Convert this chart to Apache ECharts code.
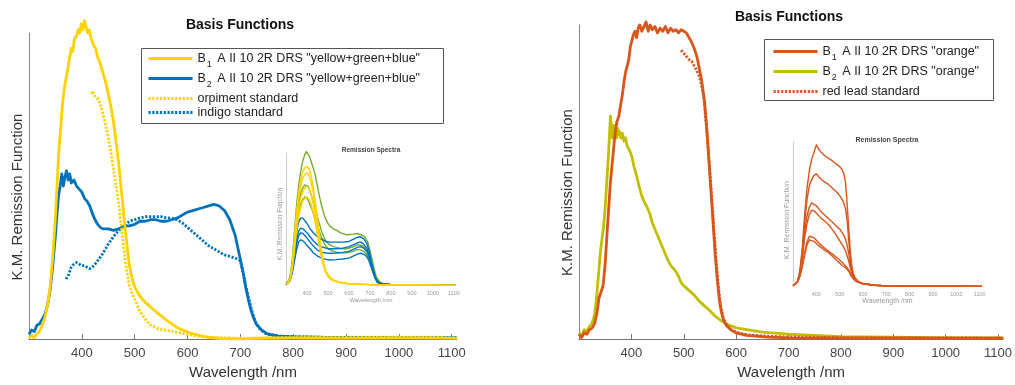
<!DOCTYPE html>
<html>
<head>
<meta charset="utf-8">
<script src="https://cdn.jsdelivr.net/npm/echarts@6/dist/echarts.min.js"></script>
<style>html,body{margin:0;padding:0;background:#fff}#c{width:1015px;height:385px}</style>
</head>
<body>
<div id="c"></div>
<script>
// ---------- data (wavelength nm, K.M. remission, relative units) ----------
const xTicks = [400, 500, 600, 700, 800, 900, 1000, 1100];

// Left panel: basis functions "yellow+green+blue"
const b1Ygb = [[300,0.5],[305,1.2],[310,0.4],[315,1.8],[320,2.5],[325,4.5],[330,7],[335,11],[340,17],[345,27],[350,40],[353,50],[356,60],[360,69],[363,76],[366,81],[370,85],[373,88],[376,91],[380,95],[383,94],[386,98],[390,99],[393,101],[396,100],[399,103],[402,101],[405,104],[408,102],[411,100],[414,101],[418,98],[422,96],[426,95],[430,92],[435,90],[440,87],[445,84],[450,80],[455,76],[460,71],[465,64],[470,57],[474,50],[478,43],[482,36],[486,30],[490,24],[495,20],[500,17],[505,15.5],[510,14],[520,12],[530,10.5],[540,9],[550,7.6],[560,6.2],[570,5],[580,3.8],[590,3],[600,2.3],[620,1.3],[640,0.6],[660,0.2],[700,0.1],[750,0.3],[800,0.4],[900,0.3],[1000,0.4],[1110,0.3]];
const b2Ygb = [[300,1.5],[305,3],[310,2.5],[315,4.5],[320,5],[325,6.5],[330,8],[335,11],[340,16],[345,24],[350,34],[353,41],[356,47],[359,50],[362,54],[365,50],[368,53],[371,55],[374,52],[377,54],[380,51],[385,52],[390,50],[395,49],[400,48],[405,46],[410,45],[415,43.5],[420,41],[425,39],[430,37.5],[435,36.5],[440,36],[450,36],[460,35.5],[470,36],[480,37],[490,37],[500,37.5],[510,38.5],[520,38.5],[530,39],[540,39],[550,38.5],[560,38.5],[570,39],[580,39.5],[590,40.5],[600,41.5],[610,42],[620,42.5],[630,43],[640,43.5],[650,44],[660,43.5],[670,42],[680,39],[690,34],[695,30],[700,26],[705,22],[710,17],[715,13],[720,9.5],[725,7],[730,5],[740,3],[750,1.8],[770,1],[800,0.7],[900,0.5],[1000,0.4],[1110,0.4]];
const orpiment = [[418,80],[421,81],[424,79.5],[428,79],[432,78],[436,76],[440,73.5],[445,70],[450,66],[455,61],[460,55.5],[465,50],[470,44],[474,38],[478,32],[482,26],[486,21],[490,17.5],[495,15],[500,13],[510,9],[520,6.5],[530,4.6],[545,3.3],[560,2.9],[580,2.2],[600,1.6],[625,0.8],[650,0.5],[700,0.3],[800,0.5],[900,0.6],[1000,0.6],[1085,0.6]];
const indigo = [[370,19.6],[375,21],[380,23.5],[385,24.5],[390,25],[395,24.5],[400,24],[405,24],[410,23.5],[415,23],[420,23.5],[425,24.5],[430,25.6],[440,28],[450,31],[460,33.5],[470,35.5],[480,37],[490,38.5],[500,39],[510,39.6],[520,40],[530,40],[540,40],[550,40],[560,39.6],[570,39.5],[580,39],[590,38],[600,36.5],[610,35],[620,33.5],[630,32],[640,30.5],[650,29.5],[660,28.5],[670,27.5],[680,27],[690,26.5],[700,25.6],[703,23],[706,21],[710,17.5],[715,14],[720,10.5],[725,7.2],[730,5],[738,3],[750,1.6],[780,0.9],[850,0.6],[1000,0.5],[1110,0.5]];

// Left inset: remission spectra
const inGreen1 = [[300,2],[310,3],[320,8],[330,20],[340,40],[350,60],[360,75],[370,86],[380,94],[390,99],[397,101],[405,100],[413,97],[425,91],[437,85],[450,75],[460,67],[470,60],[485,52],[500,47],[510,45],[525,43],[540,42],[560,40],[590,38.5],[620,39],[640,39.5],[660,38.5],[675,37],[690,33],[700,27],[710,20],[720,13],[730,7],[745,3.5],[760,2],[800,1.2],[900,0.8],[1110,0.5]];
const inGreen2 = [[300,1.5],[310,3],[320,7],[330,17],[340,33],[350,50],[360,62],[370,70],[380,74],[390,76],[398,77],[405,75],[415,71],[425,66],[440,58],[455,49],[470,41],[485,35],[500,32],[520,30],[540,29],[560,28],[590,28],[620,29.5],[640,31],[660,30.5],[675,29],[690,25],[700,21],[710,15],[720,10],[730,5.5],[745,2.8],[760,1.6],[800,1],[900,0.7],[1110,0.5]];
const inGreen3 = [[300,1.5],[310,2.5],[320,6],[330,15],[340,29],[350,44],[360,55],[370,62],[380,65],[390,67],[400,66],[410,63],[425,57],[440,50],[455,43],[470,36],[485,31],[500,28],[520,26.5],[540,25.5],[560,25],[590,25],[620,26],[640,27.5],[660,27],[675,25.5],[690,22],[700,18],[710,13],[720,8.5],[730,5],[745,2.5],[760,1.5],[800,1],[900,0.7],[1110,0.5]];
const inBlue1 = [[300,1],[310,2.5],[320,6],[330,14],[340,27],[350,40],[360,48],[370,51],[380,51],[390,49],[400,47],[415,43],[430,40],[450,37],[470,35],[490,33.5],[510,33],[540,33],[570,33],[600,33.5],[620,35],[640,36.5],[655,37],[670,35.5],[685,32],[695,27],[705,20],[715,13],[725,7],[735,3.5],[750,1.8],[800,1],[1110,0.5]];
const inBlue2 = [[300,1],[310,2.5],[320,5.5],[330,12],[340,23],[350,34],[360,41],[370,43.5],[380,43],[390,41.5],[400,40],[415,37],[430,34],[450,31],[470,29.5],[490,28.5],[510,28],[540,28],[570,28.5],[600,29.6],[620,31],[640,32.5],[655,33],[670,31.5],[685,28.5],[695,24],[705,18],[715,12],[725,6.5],[735,3.2],[750,1.7],[800,1],[1110,0.5]];
const inBlue3 = [[300,1],[310,2],[320,5],[330,11],[340,21],[350,31],[360,38],[370,40],[380,39.5],[390,38],[400,36],[415,33],[430,30],[450,27],[470,25.5],[490,24.8],[510,24.6],[540,24.8],[570,25.3],[600,26],[620,27.5],[640,29],[655,29.6],[670,28.5],[685,26],[695,22],[705,16.5],[715,11],[725,6],[735,3],[750,1.6],[800,1],[1110,0.5]];
const inBlue4 = [[300,1],[310,2],[320,4.5],[330,10],[340,18.5],[350,27],[360,33],[370,34.7],[380,34],[390,32.5],[400,30.5],[415,28],[430,25],[450,22.5],[470,21],[490,20],[510,19.6],[540,19.8],[570,20.3],[600,21],[620,22.5],[640,24],[655,24.6],[670,24],[685,22],[695,19],[705,14.5],[715,10],[725,5.5],[735,2.8],[750,1.5],[800,1],[1110,0.5]];
const inYellow1 = [[300,1],[310,2.5],[320,7],[330,17],[340,35],[350,55],[360,70],[370,80],[380,86],[390,89],[400,90],[410,88],[420,83],[430,74],[440,63],[450,50],[460,37],[470,26],[480,17],[490,11.5],[500,8.5],[520,5],[550,3],[600,1.8],[700,1],[800,0.7],[1110,0.5]];
const inYellow2 = [[300,1],[310,2.2],[320,6.5],[330,16],[340,33],[350,52],[360,66],[370,75],[380,81],[390,84],[400,85],[410,83],[420,78],[430,70],[440,59],[450,47],[460,35],[470,25],[480,16.5],[490,11],[500,8],[520,4.8],[550,2.9],[600,1.7],[700,1],[800,0.7],[1110,0.5]];
const inYellow3 = [[300,1],[310,2],[320,6],[330,14],[340,29],[350,46],[360,58],[370,66],[380,71],[390,74],[400,75],[410,73],[420,69],[430,62],[440,53],[450,42],[460,32],[470,23],[480,15.5],[490,10.5],[500,7.5],[520,4.5],[550,2.8],[600,1.6],[700,1],[800,0.7],[1110,0.5]];
const inYellow4 = [[300,1],[310,2],[320,5.5],[330,12.5],[340,26],[350,41],[360,52],[370,59],[380,64],[390,66],[400,67],[410,65],[420,61.5],[430,55],[440,47],[450,38],[460,29],[470,21],[480,14.5],[490,10],[500,7],[520,4.3],[550,2.7],[600,1.5],[700,1],[800,0.7],[1110,0.5]];

// Right panel: basis functions "orange"
const b1Orange = [[300,1.5],[305,0.5],[310,2],[315,1.5],[320,3],[325,3.5],[330,5],[335,9],[338,13],[342,15],[346,17],[350,24],[353,32],[356,40],[360,50],[364,57],[368,64],[372,69],[376,71],[380,75],[383,78],[386,82],[389,85],[392,87],[395,89],[398,93],[401,95],[404,97],[407,98],[410,96],[413,99],[416,100],[420,98],[424,99.5],[428,101],[432,98],[436,100],[440,98.5],[445,99.5],[450,97.5],[455,99],[460,98],[465,99.5],[470,97.5],[475,99],[480,98],[485,98.5],[490,97.5],[495,98.5],[500,98],[505,97.5],[510,96],[515,94.5],[520,92.5],[525,90],[530,86],[535,81.5],[540,75],[544,67],[548,57],[552,47],[556,37],[560,27],[564,19],[568,12.5],[572,8.5],[576,6],[582,4.2],[590,3],[600,2],[620,1.2],[660,0.6],[700,0.4],[800,0.3],[1110,0.3]];
const b2Orange = [[300,2],[305,1],[310,3],[315,2.5],[320,4],[325,5],[330,8],[334,14],[338,22],[341,28],[344,32],[347,36],[350,42],[353,50],[356,58],[358,64],[360,71],[362,67],[364,64],[366,68],[368,65],[370,66.5],[372,64],[374,67],[376,65],[378,66],[380,64],[383,65.5],[386,63],[389,64],[392,61.5],[395,61],[398,59.5],[401,58],[405,55],[410,52],[415,48.5],[420,45.5],[425,43.5],[430,42],[435,40],[440,37],[445,35],[450,33],[455,31],[460,29],[465,27],[470,25],[475,23.5],[480,22.5],[485,21.5],[490,20],[495,18],[500,17],[510,15.5],[520,14],[530,12],[540,10.5],[550,9],[560,7.3],[570,6],[580,5],[590,4.2],[600,3.6],[620,3],[650,2.2],[700,1.6],[750,1.2],[800,0.8],[900,0.6],[1000,0.4],[1110,0.4]];
const redLead = [[495,92],[500,91],[505,90],[510,89],[515,88.5],[520,87],[525,85.5],[530,83.5],[535,80],[539,76],[542,70],[546,62],[550,53],[554,44],[558,34],[562,25],[566,17],[570,11],[575,7],[580,5],[590,3],[600,2.2],[620,1.4],[660,0.9],[700,0.7],[800,0.5],[1000,0.4],[1105,0.3]];

// Right inset: remission spectra (orange)
const inOrange1 = [[300,1],[310,2],[320,4],[330,12],[340,27],[350,50],[360,68],[370,80],[380,88],[390,93],[400,98],[410,95],[420,93],[440,90],[460,88],[480,85.5],[500,83],[510,81],[518,78],[525,72],[530,62],[535,50],[540,37],[545,26],[550,17],[557,10],[565,6.5],[580,3.8],[600,2.4],[650,1.2],[700,0.8],[800,0.5],[1110,0.4]];
const inOrange2 = [[300,1],[310,2],[320,4],[330,11],[340,25],[350,44],[360,60],[370,70],[380,74],[390,77],[400,78],[410,76],[430,73],[450,71],[470,68],[490,65],[505,62],[515,59],[525,54],[532,46],[538,34],[543,24],[548,16],[555,10],[565,6],[580,3.6],[600,2.3],[650,1.2],[700,0.8],[800,0.5],[1110,0.4]];
const inOrange3 = [[300,1],[310,2],[320,4],[330,10],[340,22],[350,38],[360,49],[370,55],[380,58],[388,58.6],[400,56],[420,52],[440,49],[460,46],[480,43],[500,40],[515,36.5],[525,33],[533,28],[540,22],[546,15],[552,10],[560,6.5],[575,4],[600,2.2],[650,1.2],[700,0.8],[800,0.5],[1110,0.4]];
const inOrange4 = [[300,1],[310,2],[320,4],[330,9.5],[340,20],[350,34],[360,44],[370,50],[380,53],[390,52.5],[400,51],[420,47.5],[440,45],[460,41.5],[480,37],[500,32],[515,28],[525,25],[533,21],[540,17],[546,13],[552,9.5],[560,6.3],[575,3.9],[600,2.2],[650,1.2],[700,0.8],[800,0.5],[1110,0.4]];
const inOrange5 = [[300,1],[310,2],[320,3.5],[330,8],[340,15],[350,24],[360,31],[370,35],[378,35.6],[390,34],[410,30.5],[430,27.5],[450,25],[470,22.5],[490,20],[510,17],[530,13.8],[540,11.5],[550,8],[560,5.5],[575,3.6],[600,2.2],[650,1.2],[700,0.8],[800,0.5],[1110,0.4]];
const inOrange6 = [[300,1],[310,2],[320,3.5],[330,7.5],[340,14],[350,22],[360,29],[370,32.5],[378,33],[390,31.5],[410,28.5],[430,26],[450,24],[470,21],[490,18],[510,15],[530,12.6],[540,10.5],[550,7.5],[560,5.2],[575,3.5],[600,2.1],[650,1.2],[700,0.8],[800,0.5],[1110,0.4]];

const nB1Ygb = 'B1 A II 10 2R DRS "yellow+green+blue"';
const nB2Ygb = 'B2 A II 10 2R DRS "yellow+green+blue"';
const nOrp = 'orpiment standard';
const nInd = 'indigo standard';
const nB1Or = 'B1 A II 10 2R DRS "orange"';
const nB2Or = 'B2 A II 10 2R DRS "orange"';
const nRed = 'red lead standard';

// ---------- styling ----------
const FONT = '"Liberation Sans", Arial, Helvetica, sans-serif';
const YEL = '#FFD200', BLU = '#0072BD', ORA = '#DA551B', OLV = '#C2BF00', GRN = '#77AC30';

function ser(name, data, color, idx, width, dotted, z) {
  return {
    type: 'line', name: name, data: data, xAxisIndex: idx, yAxisIndex: idx,
    symbol: 'none', clip: false, silent: true, z: z || 2,
    lineStyle: { color: color, width: width, type: dotted ? [2.2, 1.6] : 'solid', join: 'round' },
    itemStyle: { color: color }
  };
}
function lblFmt(v) { return xTicks.indexOf(v) >= 0 ? String(v) : ''; }

function mainX(idx) {
  return {
    gridIndex: idx, type: 'value', min: 300, max: 1110, interval: 100,
    axisLine: { show: true, lineStyle: { color: '#777', width: 1 } },
    axisTick: { show: true, inside: true, length: 5, lineStyle: { color: '#777' } },
    splitLine: { show: false },
    axisLabel: { fontSize: 13, color: '#444', margin: 8, formatter: lblFmt, fontFamily: FONT, showMinLabel: true, showMaxLabel: false },
    name: 'Wavelength /nm', nameLocation: 'middle', nameGap: 24,
    nameTextStyle: { fontSize: 15, color: '#333', fontFamily: FONT }
  };
}
function mainY(idx, shift) {
  return {
    gridIndex: idx, type: 'value', min: 0, max: 100,
    axisLine: { show: true, lineStyle: { color: '#888', width: 1 } },
    axisTick: { show: false }, axisLabel: { show: false }, splitLine: { show: false },
    name: 'K.M. Remission Function', nameLocation: 'middle', nameGap: 4, nameRotate: 90,
    nameTextStyle: { fontSize: 15, color: '#333', fontFamily: FONT, padding: [0, shift, 0, 0] }
  };
}
function insetX(idx, nameGap, nameSize) {
  return {
    gridIndex: idx, type: 'value', min: 300, max: 1110, interval: 100,
    axisLine: { show: false }, axisTick: { show: false }, splitLine: { show: false },
    axisLabel: { fontSize: 5.5, color: '#999', margin: 4, formatter: lblFmt, fontFamily: FONT },
    name: 'Wavelength /nm', nameLocation: 'middle', nameGap: nameGap,
    nameTextStyle: { fontSize: nameSize, color: '#999', fontFamily: FONT }
  };
}
function insetY(idx, shift, nameSize) {
  return {
    gridIndex: idx, type: 'value', min: 0, max: 100,
    axisLine: { show: true, lineStyle: { color: '#ccc', width: 1 } },
    axisTick: { show: false }, axisLabel: { show: false }, splitLine: { show: false },
    name: 'K.M. Remission Function', nameLocation: 'middle', nameGap: 2, nameRotate: 90,
    nameTextStyle: { fontSize: nameSize, color: '#999', fontFamily: FONT, padding: [0, shift, 0, 0] }
  };
}
function legFmt(name) {
  const m = name.match(/^B(\d) (.*)$/);
  if (m) return '{t|B}{s|' + m[1] + '}{t| ' + m[2] + '}';
  return '{t|' + name + '}';
}
function leg(name, left, top) {
  return {
    data: [name], left: left, top: top, orient: 'vertical', padding: 0,
    itemWidth: 44, itemHeight: 12, itemGap: 0, selectedMode: false,
    itemStyle: { opacity: 0, borderWidth: 0 },
    lineStyle: { width: 3 },
    formatter: legFmt,
    textStyle: {
      fontFamily: FONT, color: '#222',
      rich: {
        t: { fontSize: 12.5, color: '#222', fontFamily: FONT },
        s: { fontSize: 9, color: '#222', fontFamily: FONT, padding: [12, 2, 0, 1] }
      }
    }
  };
}

const option = {
  animation: false,
  backgroundColor: '#fff',
  textStyle: { fontFamily: FONT },
  title: [
    { text: 'Basis Functions', left: 235, top: 13, textAlign: 'center', textStyle: { fontSize: 14, fontWeight: 'bold', color: '#111', fontFamily: FONT } },
    { text: 'Basis Functions', left: 784, top: 5, textAlign: 'center', textStyle: { fontSize: 14, fontWeight: 'bold', color: '#111', fontFamily: FONT } },
    { text: 'Remission Spectra', left: 366, top: 142, textAlign: 'center', textStyle: { fontSize: 6.5, fontWeight: 'bold', color: '#444', fontFamily: FONT } },
    { text: 'Remission Spectra', left: 882, top: 132, textAlign: 'center', textStyle: { fontSize: 7, fontWeight: 'bold', color: '#444', fontFamily: FONT } }
  ],
  grid: [
    { left: 29, top: 33, width: 428, height: 309 },
    { left: 579, top: 25, width: 431, height: 317 },
    { left: 286, top: 153, width: 170, height: 133 },
    { left: 793, top: 142, width: 189, height: 145 }
  ],
  xAxis: [mainX(0), mainX(1), insetX(2, 10, 6), insetX(3, 11, 7)],
  yAxis: [mainY(0, 22), mainY(1, 21), insetY(2, 9, 6.5), insetY(3, 11, 7)],
  legend: [
    leg(nB1Ygb, 147, 52), leg(nB2Ygb, 147, 72), leg(nOrp, 147, 92), leg(nInd, 147, 106),
    leg(nB1Or, 772, 45), leg(nB2Or, 772, 65), leg(nRed, 772, 85)
  ],
  graphic: [
    { type: 'rect', shape: { x: 141.5, y: 48.5, width: 302, height: 75 }, style: { fill: 'none', stroke: '#555', lineWidth: 1 } },
    { type: 'rect', shape: { x: 764.5, y: 39.5, width: 229, height: 61 }, style: { fill: 'none', stroke: '#555', lineWidth: 1 } }
  ],
  series: [
    ser(nB2Ygb, b2Ygb, BLU, 0, 2.8, false, 2),
    ser(nInd, indigo, BLU, 0, 2.8, true, 2),
    ser(nB1Ygb, b1Ygb, YEL, 0, 2.8, false, 3),
    ser(nOrp, orpiment, YEL, 0, 2.8, true, 3),

    ser(nB2Or, b2Orange, OLV, 1, 2.8, false, 2),
    ser(nB1Or, b1Orange, ORA, 1, 2.8, false, 3),
    ser(nRed, redLead, ORA, 1, 2.8, true, 3),

    ser('g1', inGreen1, GRN, 2, 1.4), ser('g2', inGreen2, GRN, 2, 1.4), ser('g3', inGreen3, GRN, 2, 1.4),
    ser('bl1', inBlue1, BLU, 2, 1.4), ser('bl2', inBlue2, BLU, 2, 1.4), ser('bl3', inBlue3, BLU, 2, 1.4), ser('bl4', inBlue4, BLU, 2, 1.4),
    ser('y1', inYellow1, YEL, 2, 1.4, false, 3), ser('y2', inYellow2, YEL, 2, 1.4, false, 3), ser('y3', inYellow3, YEL, 2, 1.4, false, 3), ser('y4', inYellow4, YEL, 2, 1.4, false, 3),

    ser('o1', inOrange1, ORA, 3, 1.4), ser('o2', inOrange2, ORA, 3, 1.4), ser('o3', inOrange3, ORA, 3, 1.4),
    ser('o4', inOrange4, ORA, 3, 1.4), ser('o5', inOrange5, ORA, 3, 1.4), ser('o6', inOrange6, ORA, 3, 1.4)
  ]
};
const chart = echarts.init(document.getElementById('c'), null, { renderer: 'canvas' });
chart.setOption(option);
</script>
</body>
</html>
